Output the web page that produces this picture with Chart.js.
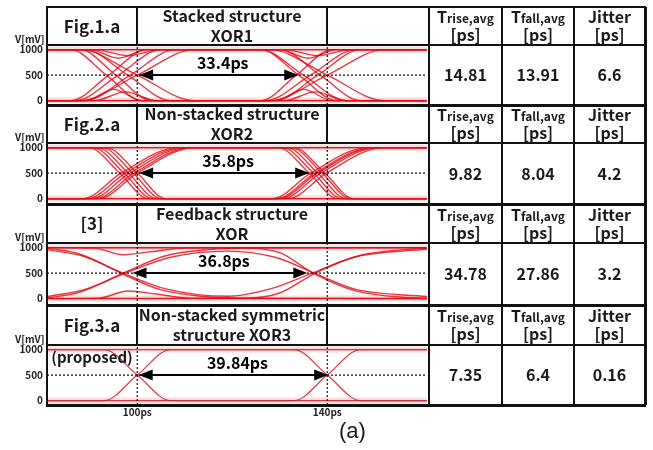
<!DOCTYPE html>
<html>
<head>
<meta charset="utf-8">
<script src="https://cdn.jsdelivr.net/npm/chart.js@4.4.1/dist/chart.umd.min.js"></script>
<style>
  body { margin: 0; width: 653px; height: 450px; overflow: hidden; position: relative; background: #fff;
         font-family: 'Noto Sans CJK KR', 'Noto Sans', sans-serif; color: #1a1a1a; }
  .ln { position: absolute; background: #111; z-index: 3; }
  .cell { position: absolute; display: flex; flex-direction: column; align-items: center; justify-content: center;
          font-weight: 700; z-index: 4; text-align: center; line-height: 1.22; font-size: 16px; }
  .sub { font-size: 12px; }
  .tag { position: absolute; font-weight: 700; font-size: 10px; z-index: 4; color: #222; }
</style>
</head>
<body>
<script>
// ---- data ----
const rowLabels = ['Fig.1.a', 'Fig.2.a', '[3]', 'Fig.3.a'];
const rowTitles = [['Stacked structure', 'XOR1'], ['Non-stacked structure', 'XOR2'],
                   ['Feedback structure', 'XOR'], ['Non-stacked symmetric', 'structure XOR3']];
const riseAvg = [14.81, 9.82, 34.78, 7.35];
const fallAvg = [13.91, 8.04, 27.86, 6.4];
const jitter = [6.6, 4.2, 3.2, 0.16];
const eyeWidth = [33.4, 35.8, 36.8, 39.84];
const eyeFrom = [100.4, 100.4, 99.0, 100.3];
const eyeTo = [133.9, 136.2, 135.8, 140.2];
const voltTicks = [0, 500, 1000];
const timeMarks = [100, 140];
const timeWindow = [81, 161];
const refLevel = 500;
const railLevels = [0, 1000];

// traces as [ps, mV] points
const tracesXOR1 = [
  [[81,1000],[86,1000],[93.5,500],[101,0],[126,0],[133.5,500],[141,1000],[161,1000]],
  [[81,0],[86,0],[94,500],[102,1000],[126,1000],[134,500],[142,0],[161,0]],
  [[81,1000],[88,1000],[95.5,500],[103,0],[161,0]],
  [[81,0],[87,0],[96,500],[105,1000],[161,1000]],
  [[81,1000],[89,1000],[98,500],[107,0],[129,0],[138,500],[147,1000],[161,1000]],
  [[81,0],[89,0],[98.5,500],[108,1000],[130,1000],[138.5,500],[147,0],[161,0]],
  [[81,1000],[88,1000],[100,500],[112,0],[128,0],[140,500],[152,1000],[161,1000]],
  [[81,0],[88,0],[100,500],[112,1000],[128,1000],[140,500],[152,0],[161,0]],
  [[81,1000],[126,1000],[135,500],[144,0],[161,0]],
  [[81,0],[127,0],[136.5,500],[146,1000],[161,1000]],
  [[81,0],[89,0],[95,220],[101,0],[129,0],[135,220],[141,0],[161,0]],
  [[81,0],[91,0],[97.5,170],[104,0],[131,0],[137.5,170],[144,0],[161,0]],
  [[81,1000],[90,1000],[96,830],[102,1000],[130,1000],[136,830],[142,1000],[161,1000]],
  [[81,1000],[91,1000],[98,880],[105,1000],[131,1000],[138,880],[145,1000],[161,1000]]
];
const tracesXOR2 = [
  [[81,1000],[89.8,1000],[96.3,500],[102.3,0],[128.5,0],[136.5,500],[148.5,1000],[161,1000]],
  [[81,1000],[90.7,1000],[97.2,500],[103.2,0],[129.4,0],[137.4,500],[149.4,1000],[161,1000]],
  [[81,1000],[91.6,1000],[98.1,500],[104.1,0],[130.6,0],[138.6,500],[150.6,1000],[161,1000]],
  [[81,1000],[92.6,1000],[99.1,500],[105.1,0],[161,0]],
  [[81,1000],[93.5,1000],[100,500],[106,0],[131.8,0],[139.8,500],[151.8,1000],[161,1000]],
  [[81,0],[88.6,0],[96.6,500],[108.6,1000],[129.7,1000],[136.2,500],[142.2,0],[161,0]],
  [[81,0],[89.5,0],[97.5,500],[109.5,1000],[130.6,1000],[137.1,500],[143.1,0],[161,0]],
  [[81,0],[90.4,0],[98.4,500],[110.4,1000],[131.5,1000],[138,500],[144,0],[161,0]],
  [[81,0],[91.3,0],[99.3,500],[111.3,1000],[161,1000]],
  [[81,0],[92,0],[100,500],[112,1000],[133,1000],[139.5,500],[145.5,0],[161,0]],
  [[81,1000],[132.4,1000],[138.9,500],[144.9,0],[161,0]],
  [[81,0],[129.9,0],[137.9,500],[149.9,1000],[161,1000]]
];
const tracesFeedback = [
  [[81,960],[89,820],[97,500],[106,190],[119,45],[128,190],[136.8,500],[146,820],[161,970]],
  [[81,40],[89,180],[97.5,500],[107,810],[119,930],[129,810],[137.3,500],[146,180],[161,40]],
  [[81,990],[88,870],[96.5,500],[105,170],[114,40],[124,5],[161,5]],
  [[81,10],[88,130],[97,500],[106,840],[115,960],[125,995],[161,995]],
  [[81,995],[122,995],[130,900],[137,500],[146,150],[156,25],[161,10]],
  [[81,5],[122,5],[130,110],[137.5,500],[147,850],[156,960],[161,985]],
  [[81,1000],[91,990],[97,860],[103,920],[110,990],[161,1000]],
  [[81,0],[92,10],[98,150],[104,90],[111,10],[161,0]]
];
const tracesXOR3 = [
  [[81,1000],[93,1000],[100,500],[107,0],[133,0],[140,500],[147,1000],[161,1000]],
  [[81,0],[93,0],[100,500],[107,1000],[133,1000],[140,500],[147,0],[161,0]]
];
const traceSets = [tracesXOR1, tracesXOR2, tracesFeedback, tracesXOR3];

// ---- layout ----
const colX = [47, 137, 327, 429, 502, 574, 645];
const rowY = [7, 45, 105, 143, 204, 243, 305, 345, 405];

function addDiv(cls, css, html) {
  const d = document.createElement('div');
  d.className = cls;
  d.style.cssText = css;
  if (html) d.innerHTML = html;
  document.body.appendChild(d);
  return d;
}

// table lines
rowY.forEach((y, i) => {
  const t = (i === 0 || i % 2 === 1) ? 2 : 3;
  addDiv('ln', `left:${colX[0] - 1}px;top:${y - t / 2}px;width:${colX[6] - colX[0] + 2}px;height:${t}px`);
});
[colX[0], colX[3], colX[4], colX[5], colX[6]].forEach((x, i) => {
  const t = i === 4 ? 3 : 2;
  addDiv('ln', `left:${x - t / 2}px;top:${rowY[0]}px;width:${t}px;height:${rowY[8] - rowY[0]}px`);
});
for (let k = 0; k < 4; k++) {
  [colX[1], colX[2]].forEach(x => {
    addDiv('ln', `left:${x - 1}px;top:${rowY[2 * k]}px;width:2px;height:${rowY[2 * k + 1] - rowY[2 * k]}px`);
  });
}

// table text
function cell(c0, c1, r0, r1, html, extra) {
  addDiv('cell', `left:${colX[c0]}px;width:${colX[c1] - colX[c0]}px;top:${r0}px;height:${r1 - r0}px;${extra || ''}`, html);
}
for (let k = 0; k < 4; k++) {
  const h0 = rowY[2 * k], h1 = rowY[2 * k + 1], e1 = rowY[2 * k + 2];
  cell(0, 1, h0, h1, rowLabels[k], 'font-size:17px');
  cell(1, 2, h0, h1, rowTitles[k].map(s => `<div>${s}</div>`).join(''));
  cell(3, 4, h0, h1, '<div>T<span class="sub">rise,avg</span></div><div>[ps]</div>', 'line-height:1.1');
  cell(4, 5, h0, h1, '<div>T<span class="sub">fall,avg</span></div><div>[ps]</div>', 'line-height:1.1');
  cell(5, 6, h0, h1, '<div>Jitter</div><div>[ps]</div>', 'line-height:1.1');
  cell(3, 4, h1, e1, String(riseAvg[k]));
  cell(4, 5, h1, e1, String(fallAvg[k]));
  cell(5, 6, h1, e1, String(jitter[k]));
  addDiv('tag', `left:15px;top:${h1 - 14}px`, 'V[mV]');
}
addDiv('cell', `left:${colX[0]}px;width:90px;top:${rowY[7] + 3}px;height:20px;font-size:15px;justify-content:flex-start`, '(proposed)');
addDiv('cell', `left:330px;top:417px;width:45px;height:28px;font-weight:400;font-size:22px;font-family:'Liberation Sans',Arial,sans-serif`, '(a)');

// ---- charts ----
const eyeArrow = {
  id: 'eyeArrow',
  afterDatasetsDraw(chart, args, opts) {
    const { ctx, scales: { x, y } } = chart;
    const x0 = x.getPixelForValue(opts.from), x1 = x.getPixelForValue(opts.to);
    const yy = y.getPixelForValue(refLevel);
    ctx.save();
    ctx.strokeStyle = '#000';
    ctx.fillStyle = '#000';
    ctx.lineWidth = 2;
    ctx.beginPath(); ctx.moveTo(x0 + 8, yy); ctx.lineTo(x1 - 8, yy); ctx.stroke();
    ctx.beginPath(); ctx.moveTo(x0, yy); ctx.lineTo(x0 + 14, yy - 5.5); ctx.lineTo(x0 + 14, yy + 5.5); ctx.closePath(); ctx.fill();
    ctx.beginPath(); ctx.moveTo(x1, yy); ctx.lineTo(x1 - 14, yy - 5.5); ctx.lineTo(x1 - 14, yy + 5.5); ctx.closePath(); ctx.fill();
    ctx.font = "bold 16px 'Noto Sans CJK KR', 'Noto Sans', sans-serif";
    ctx.textAlign = 'center';
    ctx.textBaseline = 'middle';
    ctx.fillText(opts.label, (x0 + x1) / 2 + 4, y.getPixelForValue(740));
    ctx.restore();
  }
};

const pts = arr => arr.map(p => ({ x: p[0], y: p[1] }));
const tickFont = { family: "'Noto Sans CJK KR', 'Noto Sans', sans-serif", size: 10, weight: 'bold' };

for (let k = 0; k < 4; k++) {
  const top = rowY[2 * k + 1], h = rowY[2 * k + 2] - top;
  const last = k === 3;
  const cv = document.createElement('canvas');
  cv.width = 427;
  cv.height = h + (last ? 16 : 0);
  cv.style.cssText = `position:absolute;left:0;top:${top}px;z-index:1`;
  document.body.appendChild(cv);

  const yMax = 1090, yMin = yMax - h / 0.051;
  const refStyle = { borderColor: '#111', borderWidth: 1.2, borderDash: [2, 2], pointRadius: 0 };
  const traceColor = last ? 'rgba(215,35,45,0.9)' : 'rgba(226,12,22,0.82)';
  const datasets = [
    { ...refStyle, data: pts([[timeWindow[0], refLevel], [timeWindow[1], refLevel]]) },
    ...timeMarks.map(t => ({ ...refStyle, data: pts([[t, yMin], [t, yMax]]) })),
    ...traceSets[k].map(tr => ({
      data: pts(tr), borderColor: traceColor, borderWidth: last ? 1.2 : 1.4,
      pointRadius: 0, cubicInterpolationMode: 'monotone'
    })),
    ...railLevels.map(v => ({ data: pts([[timeWindow[0], v], [timeWindow[1], v]]), borderColor: traceColor, borderWidth: 1.3, pointRadius: 0 })),
    ...railLevels.map(v => ({ data: pts([[timeWindow[0], v], [timeWindow[1], v]]), borderColor: 'rgba(235,120,120,0.25)', borderWidth: 6, pointRadius: 0 }))
  ];

  new Chart(cv, {
    type: 'line',
    data: { datasets },
    options: {
      responsive: false,
      animation: false,
      events: [],
      layout: { padding: 0 },
      plugins: {
        legend: { display: false },
        tooltip: { enabled: false },
        eyeArrow: { from: eyeFrom[k], to: eyeTo[k], label: eyeWidth[k] + 'ps' }
      },
      scales: {
        x: {
          type: 'linear', min: timeWindow[0], max: timeWindow[1], display: last,
          grid: { display: false, drawTicks: false }, border: { display: false },
          ticks: { font: tickFont, color: '#222', padding: 1, maxRotation: 0, autoSkip: false, callback: v => v + 'ps' },
          afterBuildTicks: s => { s.ticks = timeMarks.map(v => ({ value: v })); },
          afterFit: s => { s.height = last ? 16 : 0; s.paddingLeft = 0; s.paddingRight = 0; }
        },
        y: {
          min: yMin, max: yMax,
          grid: { display: false, drawTicks: false }, border: { display: false },
          ticks: { font: tickFont, color: '#222', padding: 4, callback: v => String(v) },
          afterBuildTicks: s => { s.ticks = voltTicks.map(v => ({ value: v })); },
          afterFit: s => { s.width = colX[0]; s.paddingTop = 0; s.paddingBottom = 0; }
        }
      }
    },
    plugins: [eyeArrow]
  });
}
</script>
</body>
</html>
